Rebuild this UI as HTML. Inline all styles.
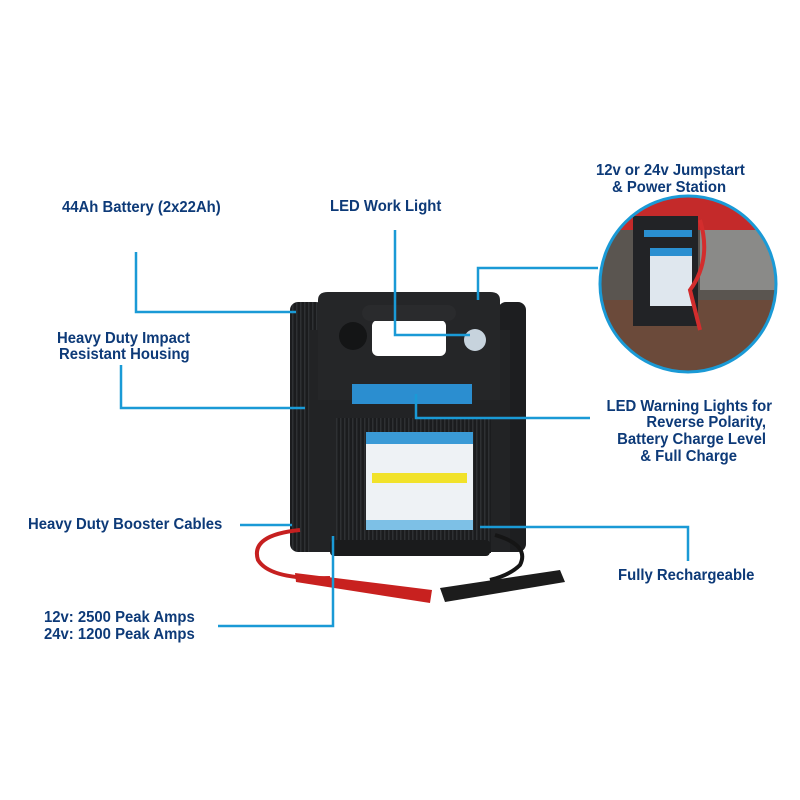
<!DOCTYPE html>
<html><head><style>
html,body{margin:0;padding:0;background:#fff}
svg{display:block}
text{font-family:"Liberation Sans",Arial,sans-serif;font-weight:bold;font-size:15.5px;fill:#0d3a78}
</style></head><body>
<svg width="800" height="800" viewBox="0 0 800 800">
<defs>
<pattern id="rib" width="4" height="4" patternUnits="userSpaceOnUse"><rect width="4" height="4" fill="#1b1c1e"/><rect width="1.5" height="4" fill="#2e3033"/></pattern>
<clipPath id="cc"><circle cx="688" cy="284" r="88"/></clipPath>
</defs>
<g clip-path="url(#cc)">
<rect x="590" y="190" width="200" height="190" fill="#5a5550"/>
<rect x="590" y="190" width="200" height="40" fill="#c42a2a"/>
<rect x="700" y="230" width="90" height="60" fill="#8a8a88"/>
<rect x="590" y="300" width="200" height="80" fill="#6b4a3a"/>
<rect x="633" y="216" width="65" height="110" fill="#222326"/>
<rect x="650" y="248" width="42" height="58" fill="#dfe7ee"/>
<rect x="650" y="248" width="42" height="8" fill="#2a8fd0"/>
<rect x="644" y="230" width="48" height="7" fill="#2a8fd0"/>
<path d="M700 220 Q712 260 690 290 L700 330" stroke="#d32d2d" stroke-width="4" fill="none"/>
</g>
<circle cx="688" cy="284" r="88" fill="none" stroke="#1a9ad6" stroke-width="3"/>
<rect x="290" y="302" width="34" height="250" rx="8" fill="url(#rib)"/>
<rect x="498" y="302" width="28" height="250" rx="8" fill="#1d1e20"/>
<rect x="310" y="330" width="200" height="222" fill="#222325"/>
<path d="M318 300 Q318 292 328 292 L490 292 Q500 292 500 300 L500 400 L318 400 Z" fill="#252628"/>
<rect x="372" y="320" width="74" height="36" rx="6" fill="#fff"/>
<rect x="362" y="305" width="94" height="16" rx="8" fill="#2a2b2d"/>
<circle cx="353" cy="336" r="14" fill="#141516"/>
<circle cx="475" cy="340" r="11" fill="#c7d3dd"/>
<rect x="352" y="384" width="120" height="20" fill="#2b8ed0"/>
<rect x="336" y="418" width="155" height="135" fill="url(#rib)"/>
<rect x="366" y="432" width="107" height="98" fill="#eef2f5"/>
<rect x="366" y="432" width="107" height="12" fill="#3a9ad6"/>
<rect x="366" y="520" width="107" height="10" fill="#7dc0e6"/>
<rect x="372" y="473" width="95" height="10" fill="#f1e22a"/>
<rect x="330" y="540" width="160" height="16" rx="4" fill="#1a1b1c"/>
<path d="M300 530 Q250 535 258 560 Q270 580 330 578" stroke="#c62020" stroke-width="4" fill="none"/>
<path d="M495 535 Q530 545 520 565 Q510 575 490 580" stroke="#151515" stroke-width="4" fill="none"/>
<path d="M295 573 L432 590 L430 603 L296 582 Z" fill="#c8211f"/>
<path d="M440 588 L560 570 L565 582 L445 602 Z" fill="#1c1c1c"/>
<g stroke="#1a9ad6" stroke-width="2.5" fill="none">
<polyline points="136,252 136,312 296,312"/>
<polyline points="395,230 395,335 470,335"/>
<polyline points="121,365 121,408 305,408"/>
<polyline points="598,268 478,268 478,300"/>
<polyline points="416,394 416,418 590,418"/>
<polyline points="240,525 292,525"/>
<polyline points="333,536 333,626 218,626"/>
<polyline points="480,527 688,527 688,561"/>
</g>
<g transform="scale(0.96,1)">
<text x="64.6" y="212">44Ah Battery (2x22Ah)</text>
<text x="343.8" y="211">LED Work Light</text>
<text x="620.8" y="175">12v or 24v Jumpstart</text>
<text x="637.5" y="192">&amp; Power Station</text>
<text x="59.4" y="343">Heavy Duty Impact</text>
<text x="61.5" y="359">Resistant Housing</text>
<text x="804.2" y="411" text-anchor="end">LED Warning Lights for</text>
<text x="797.9" y="427" text-anchor="end">Reverse Polarity,</text>
<text x="797.9" y="444" text-anchor="end">Battery Charge Level</text>
<text x="767.7" y="461" text-anchor="end">&amp; Full Charge</text>
<text x="29.2" y="529">Heavy Duty Booster Cables</text>
<text x="643.8" y="580">Fully Rechargeable</text>
<text x="45.8" y="622">12v: 2500 Peak Amps</text>
<text x="45.8" y="639">24v: 1200 Peak Amps</text>
</g>
</svg>
</body></html>
